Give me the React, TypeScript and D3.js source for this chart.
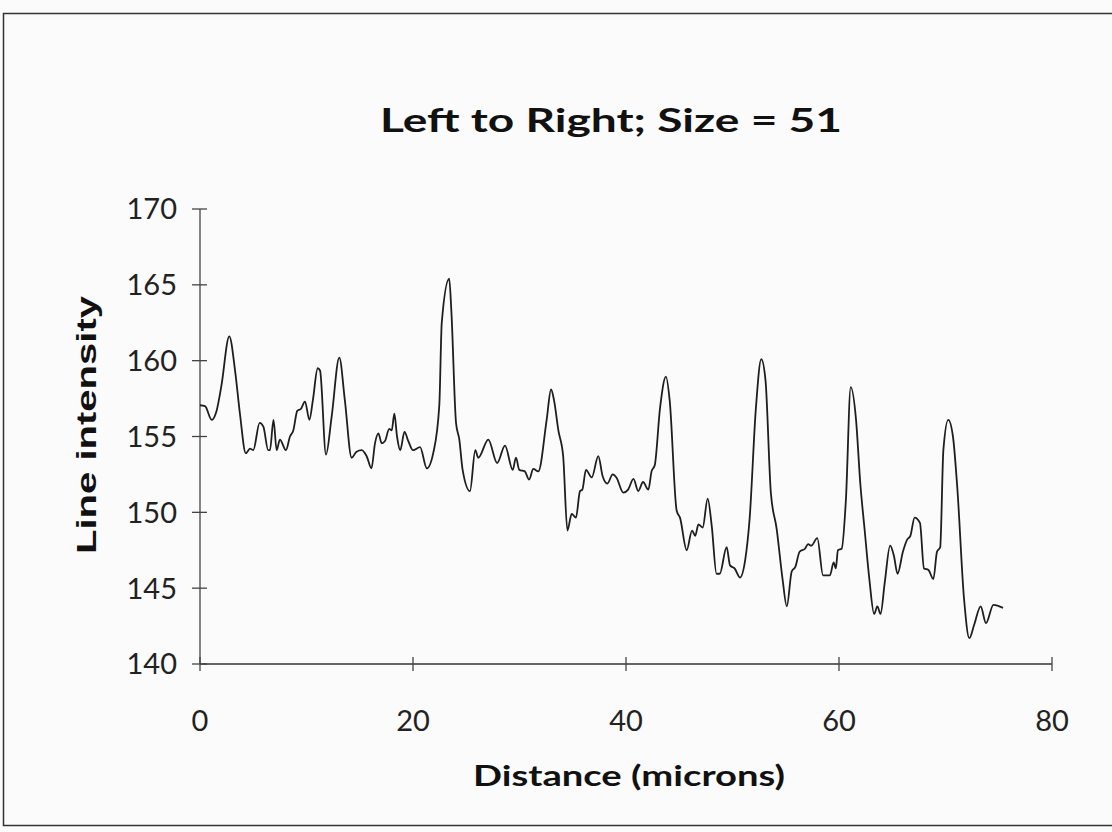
import React from 'react';
import * as d3 from 'd3';

const distance = [
  0, 0.47, 1.1, 1.56, 2.0, 2.75, 3.3, 3.75, 4.3, 4.7, 5.0, 5.6, 5.95, 6.4, 6.57, 6.9, 7.2, 7.5,
  8.07, 8.45, 8.76, 9.14, 9.45, 9.86, 10.27, 10.6, 11.05, 11.27, 11.83, 12.36, 13.08, 13.6, 14.24,
  14.7, 15.18, 15.65, 16.1, 16.43, 16.75, 17.06, 17.37, 17.77, 18.0, 18.25, 18.5, 18.8, 19.2,
  19.56, 20.0, 20.66, 21.3, 21.9, 22.47, 22.7, 23.4, 23.6, 24.04, 24.35, 24.66, 25.35, 25.85,
  26.13, 27.07, 27.9, 28.64, 29.36, 29.67, 29.98, 30.5, 30.9, 31.3, 31.77, 32.55, 32.96, 33.24,
  33.65, 34.1, 34.5, 34.9, 35.3, 35.68, 35.9, 36.24, 36.78, 37.4, 37.8, 38.25, 38.75, 39.1,
  39.75, 40.2, 40.7, 41.15, 41.6, 42.1, 42.4, 42.7, 43.2, 43.75, 44.1, 44.76, 45.07, 45.7, 46.2,
  46.5, 46.8, 47.2, 47.67, 48.05, 48.5, 48.8, 49.45, 49.77, 50.2, 50.7, 51.2, 51.6, 52.2, 52.7,
  53.1, 53.6, 54.15, 54.7, 55.1, 55.56, 55.9, 56.3, 56.8, 57.1, 57.4, 57.96, 58.5, 59.15, 59.5,
  59.7, 59.9, 60.25, 60.65, 61.1, 61.6, 62.0, 62.4, 62.85, 63.3, 63.6, 63.9, 64.3, 64.8, 65.15,
  65.5, 66.0, 66.4, 66.7, 67.1, 67.6, 67.98, 68.4, 68.86, 69.2, 69.5, 69.8, 70.26, 70.7, 71.1,
  71.74, 72.24, 72.7, 73.3, 73.8, 74.5, 75.4,
];

const intensity = [
  157.06, 157.0, 156.1, 156.7, 158.3, 161.6, 159.3, 156.5, 153.9, 154.2, 154.1, 155.9, 155.65,
  154.1, 154.1, 156.1, 154.1, 154.8, 154.1, 155.0, 155.4, 156.7, 156.8, 157.3, 156.1, 157.4,
  159.5, 159.35, 153.8, 156.3, 160.2, 157.4, 153.6, 154.0, 154.1, 153.7, 152.9, 154.55, 155.2,
  154.55, 154.7, 155.5, 155.4, 156.5, 155.0, 154.1, 155.3, 154.7, 154.1, 154.3, 152.9, 153.9,
  157.06, 162.5, 165.4, 163.3, 155.9, 154.8, 152.8, 151.4, 154.1, 153.6, 154.8, 153.25, 154.4,
  152.8, 153.6, 152.8, 152.7, 152.16, 152.86, 152.7, 156.1, 158.1, 157.4, 155.4, 153.7, 148.8,
  149.9, 149.65, 151.4, 151.5, 152.8, 152.3, 153.7, 152.4, 151.9, 152.5, 152.3, 151.3, 151.5,
  152.2, 151.4, 152.0, 151.5, 152.7, 153.1, 156.9, 158.95, 157.4, 150.1, 149.65, 147.5, 148.8,
  148.45, 149.2, 149.0, 150.9, 149.1, 145.95, 145.95, 147.7, 146.5, 146.3, 145.7, 146.9, 149.5,
  156.9, 160.1, 158.7, 151.3, 148.9, 145.6, 143.8, 146.1, 146.4, 147.4, 147.6, 147.9, 147.8,
  148.3, 145.85, 145.85, 146.7, 146.3, 147.5, 147.6, 150.85, 158.25, 156.1, 151.9, 148.9, 145.6,
  143.3, 143.8, 143.3, 145.4, 147.8, 147.15, 145.95, 147.4, 148.2, 148.45, 149.65, 149.3, 146.3,
  146.2, 145.6, 147.4, 147.7, 154.1, 156.1, 155.0, 151.7, 144.3, 141.7, 142.6, 143.8, 142.7,
  143.9, 143.7,
];

const xTicks = [0, 20, 40, 60, 80];
const yTicks = [140, 145, 150, 155, 160, 165, 170];

export default function App() {
  const width = 1112;
  const height = 832;
  const MARGIN = { top: 209, right: 60, bottom: 168, left: 200 };

  const xScale = d3
    .scaleLinear()
    .domain([0, 80])
    .range([MARGIN.left, width - MARGIN.right]);
  const yScale = d3
    .scaleLinear()
    .domain([140, 170])
    .range([height - MARGIN.bottom, MARGIN.top]);

  const points: [number, number][] = distance.map((d, i) => [d, intensity[i]]);
  const linePath = d3
    .line<[number, number]>()
    .x((d) => xScale(d[0]))
    .y((d) => yScale(d[1]))
    .curve(d3.curveMonotoneX)(points);

  const x0 = xScale(0);
  const y0 = yScale(140);
  const tickFont = 'Lato, "Open Sans", sans-serif';

  return (
    <div style={{ position: 'absolute', left: 0, top: 0 }}>
      <svg width={width} height={height}>
        <rect x={0} y={0} width={width} height={height} fill="#fbfbfb" />
        <rect x={3.5} y={13.5} width={1200} height={812} fill="none" stroke="#333" strokeWidth={1.5} />

        <text
          x={611}
          y={132}
          textAnchor="middle"
          fontFamily={tickFont}
          fontWeight="bold"
          fontSize={32}
          textLength={462}
          lengthAdjust="spacingAndGlyphs"
          fill="#111"
        >
          Left to Right; Size = 51
        </text>

        {/* axes */}
        <line x1={x0} x2={x0} y1={yScale(170)} y2={y0} stroke="#444" strokeWidth={1.3} />
        <line x1={x0} x2={xScale(80)} y1={y0} y2={y0} stroke="#333" strokeWidth={1.5} />

        {yTicks.map((t) => (
          <g key={t}>
            <line x1={x0 - 8} x2={x0 + 7} y1={yScale(t)} y2={yScale(t)} stroke="#444" strokeWidth={1.3} />
            <text
              x={177}
              y={yScale(t)}
              dy="0.36em"
              textAnchor="end"
              fontFamily={tickFont}
              fontSize={29}
              fill="#222"
            >
              {t}
            </text>
          </g>
        ))}

        {xTicks.map((t) => (
          <g key={t}>
            <line x1={xScale(t)} x2={xScale(t)} y1={y0 - 7} y2={y0 + 7} stroke="#444" strokeWidth={1.3} />
            <text
              x={xScale(t)}
              y={731}
              textAnchor="middle"
              fontFamily={tickFont}
              fontSize={29}
              fill="#222"
            >
              {t}
            </text>
          </g>
        ))}

        <path d={linePath ?? ''} fill="none" stroke="#1e1e1e" strokeWidth={1.8} strokeLinejoin="round" />

        <text
          x={629}
          y={786}
          textAnchor="middle"
          fontFamily={tickFont}
          fontWeight="bold"
          fontSize={29}
          textLength={312}
          lengthAdjust="spacingAndGlyphs"
          fill="#111"
        >
          Distance (microns)
        </text>

        <text
          transform="translate(96,425) rotate(-90)"
          textAnchor="middle"
          fontFamily='"Liberation Sans", Arial, sans-serif'
          fontWeight="bold"
          fontSize={27}
          textLength={258}
          lengthAdjust="spacingAndGlyphs"
          fill="#111"
        >
          Line intensity
        </text>
      </svg>
    </div>
  );
}
